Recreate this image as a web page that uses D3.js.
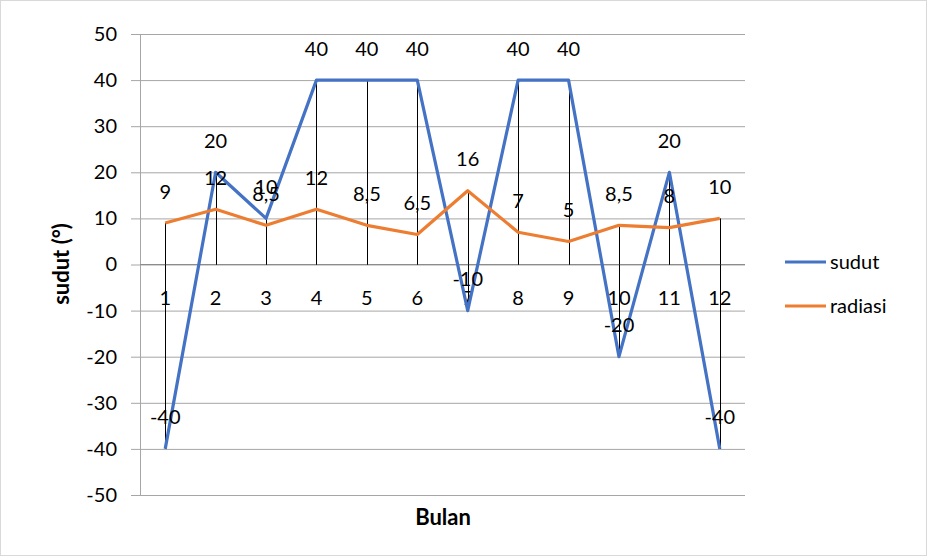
<!DOCTYPE html>
<html><head><meta charset="utf-8">
<script src="https://cdn.jsdelivr.net/npm/d3@7"></script>
<style>body{margin:0;background:#fff;} svg{display:block;font-family:Lato,"Open Sans",sans-serif;}</style>
</head><body>
<svg id="c" width="927" height="556"></svg>
<script>
const categories = ["1","2","3","4","5","6","7","8","9","10","11","12"];
const sudut = [-40, 20, 10, 40, 40, 40, -10, 40, 40, -20, 20, -40];
const radiasi = [9, 12, 8.5, 12, 8.5, 6.5, 16, 7, 5, 8.5, 8, 10];
const yTicks = [-50,-40,-30,-20,-10,0,10,20,30,40,50];
const seriesNames = ["sudut","radiasi"];
const colors = ["#4472C4","#ED7D31"];

const svg = d3.select("#c");
svg.append("rect").attr("x",0.5).attr("y",0.5).attr("width",926).attr("height",555)
  .attr("fill","#fff").attr("stroke","#d9d9d9");

const x = d3.scaleBand().domain(categories).range([140,745]);
const cx = c => x(c) + x.bandwidth()/2;
const y = d3.scaleLinear().domain([-50,50]).range([495,34]);

// gridlines
const gy = svg.append("g").attr("transform","translate(140,0)")
  .call(d3.axisLeft(y).tickValues(yTicks).tickSize(-605).tickSizeOuter(0).tickPadding(23).tickFormat(d => String(d)));
gy.select(".domain").remove();
gy.selectAll(".tick line").attr("stroke","#a6a6a6").attr("x1",-9).attr("stroke-width",1);
gy.selectAll(".tick text").attr("font-size",20).attr("fill","#000").attr("font-family","Lato");
svg.append("line").attr("x1",140.5).attr("x2",140.5).attr("y1",34).attr("y2",495).attr("stroke","#a6a6a6");
// zero axis
svg.append("line").attr("x1",140).attr("x2",745).attr("y1",y(0)).attr("y2",y(0)).attr("stroke","#8c8c8c").attr("stroke-width",1.2);

// category labels below zero line
svg.append("g").selectAll("text").data(categories).join("text")
  .attr("x",d=>cx(d)).attr("y",y(0)+40).attr("text-anchor","middle").attr("font-size",20).text(d=>d);

// drop lines
const all = [sudut, radiasi];
const dl = svg.append("g");
all.forEach(s => {
  dl.selectAll(null).data(s).join("line")
    .attr("x1",(d,i)=>Math.round(cx(categories[i]))+0.5).attr("x2",(d,i)=>Math.round(cx(categories[i]))+0.5)
    .attr("y1",d=>y(d)).attr("y2",y(0)).attr("stroke","#000").attr("stroke-width",1);
});

// lines
const line = d3.line().x((d,i)=>cx(categories[i])).y(d=>y(d));
all.forEach((s,k)=>{
  svg.append("path").datum(s).attr("d",line).attr("fill","none")
    .attr("stroke",colors[k]).attr("stroke-width",3.2).attr("stroke-linejoin","round");
});

// data labels
const fmt = v => String(v).replace(".",",");
all.forEach((s,k)=>{
  svg.append("g").selectAll("text").data(s).join("text")
    .attr("x",(d,i)=>cx(categories[i])).attr("y",d=>y(d)-24.5)
    .attr("text-anchor","middle").attr("font-size",20).attr("fill","#000").text(d=>fmt(d));
});

// axis titles
svg.append("text").attr("transform","translate(69,264) rotate(-90)").attr("text-anchor","middle")
  .attr("font-size",22).attr("font-weight","bold").text("sudut (°)");
svg.append("text").attr("x",443).attr("y",525).attr("text-anchor","middle")
  .attr("font-size",22).attr("font-weight","bold").text("Bulan");

// legend
const lg = svg.append("g");
seriesNames.forEach((n,k)=>{
  const ly = 262 + k*44;
  lg.append("line").attr("x1",785).attr("x2",826).attr("y1",ly).attr("y2",ly)
    .attr("stroke",colors[k]).attr("stroke-width",3.2);
  lg.append("text").attr("x",830).attr("y",ly+7).attr("font-size",20).text(n);
});
</script>
</body></html>
